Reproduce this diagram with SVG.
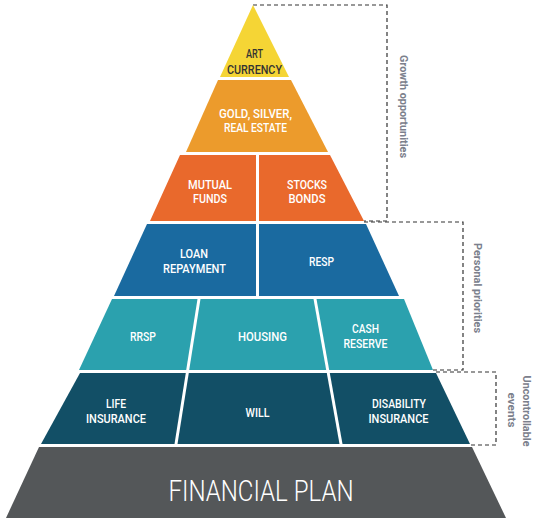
<svg xmlns="http://www.w3.org/2000/svg" width="538" height="523" viewBox="0 0 538 523">
<style>
.lbl{font-family:Roboto,"Liberation Sans",sans-serif;font-weight:500;font-size:12.5px;fill:#fff;text-anchor:middle}
.dark{fill:#333}
.side{font-family:Roboto,"Liberation Sans",sans-serif;font-weight:700;font-size:11px;fill:#7b808c;text-anchor:middle}
.dash{fill:none;stroke:#333;stroke-width:1.2;stroke-dasharray:4 3}
.t1{fill:#f5d535}.t2{fill:#ec9b2c}.t3{fill:#e9692c}.t4{fill:#1a6aa0}.t5{fill:#2ba1ae}.t6{fill:#124f66}.base{fill:#545759}
</style>
<rect width="538" height="523" fill="#fff"/>
<g id="connectors">
<polyline class="dash" points="253,5 387,5 387,221 364,221"/>
<polyline class="dash" points="364,222 463,222 463,370 433,370"/>
<polyline class="dash" points="436,372 496,372 496,445 470,445"/>
</g>
<g id="art">
<polygon class="t1" points="253,5 289,77 220,77"/>
<text class="lbl dark" x="254.5" y="58" textLength="17" lengthAdjust="spacingAndGlyphs">ART</text>
<text class="lbl dark" x="254.5" y="74" textLength="55" lengthAdjust="spacingAndGlyphs">CURRENCY</text>
</g>
<g id="gold">
<polygon class="t2" points="218,80 291,80 328,152 186,152"/>
<text class="lbl" x="255.5" y="117.5" textLength="73" lengthAdjust="spacingAndGlyphs">GOLD, SILVER,</text>
<text class="lbl" x="255.5" y="132.3" textLength="63" lengthAdjust="spacingAndGlyphs">REAL ESTATE</text>
</g>
<g id="mutual">
<polygon class="t3" points="180,155 256,155 256,221 150,221"/>
<text class="lbl" x="210" y="188.5" textLength="44" lengthAdjust="spacingAndGlyphs">MUTUAL</text>
<text class="lbl" x="210" y="203.3" textLength="34" lengthAdjust="spacingAndGlyphs">FUNDS</text>
</g>
<g id="stocks">
<polygon class="t3" points="259,155 330,155 364,221 259,221"/>
<text class="lbl" x="307" y="188.5" textLength="40" lengthAdjust="spacingAndGlyphs">STOCKS</text>
<text class="lbl" x="307" y="203.3" textLength="37" lengthAdjust="spacingAndGlyphs">BONDS</text>
</g>
<g id="loan">
<polygon class="t4" points="147,224 256,224 256,296 114,296"/>
<text class="lbl" x="194" y="258" textLength="28" lengthAdjust="spacingAndGlyphs">LOAN</text>
<text class="lbl" x="194.5" y="273" textLength="63" lengthAdjust="spacingAndGlyphs">REPAYMENT</text>
</g>
<g id="resp">
<polygon class="t4" points="259,224 366,224 399,296 259,296"/>
<text class="lbl" x="321.5" y="266" textLength="25" lengthAdjust="spacingAndGlyphs">RESP</text>
</g>
<g id="rrsp">
<polygon class="t5" points="112,299 197.5,299 186.2,370 79,370"/>
<text class="lbl" x="143" y="341" textLength="26" lengthAdjust="spacingAndGlyphs">RRSP</text>
</g>
<g id="housing">
<polygon class="t5" points="200.5,299 313.5,299 326.2,370 189.2,370"/>
<text class="lbl" x="262.5" y="341" textLength="49" lengthAdjust="spacingAndGlyphs">HOUSING</text>
</g>
<g id="cash">
<polygon class="t5" points="316.5,299 404,299 433,370 329.2,370"/>
<text class="lbl" x="365.5" y="333" textLength="27" lengthAdjust="spacingAndGlyphs">CASH</text>
<text class="lbl" x="365.5" y="348" textLength="44" lengthAdjust="spacingAndGlyphs">RESERVE</text>
</g>
<g id="life">
<polygon class="t6" points="80,373 185.8,373 174.5,444 41,444"/>
<text class="lbl" x="116" y="407.5" textLength="20" lengthAdjust="spacingAndGlyphs">LIFE</text>
<text class="lbl" x="116" y="422.5" textLength="60" lengthAdjust="spacingAndGlyphs">INSURANCE</text>
</g>
<g id="will">
<polygon class="t6" points="188.8,373 326.8,373 339.5,444 177.5,444"/>
<text class="lbl" x="257.6" y="417" textLength="24" lengthAdjust="spacingAndGlyphs">WILL</text>
</g>
<g id="disability">
<polygon class="t6" points="329.8,373 436,373 470,444 342.5,444"/>
<text class="lbl" x="399" y="407.5" textLength="54" lengthAdjust="spacingAndGlyphs">DISABILITY</text>
<text class="lbl" x="398.5" y="422.5" textLength="60" lengthAdjust="spacingAndGlyphs">INSURANCE</text>
</g>
<g id="financial-plan">
<polygon class="base" points="39,447 472,447 506,518 6,518"/>
<text x="261" y="501" textLength="185" lengthAdjust="spacingAndGlyphs" style="font-family:Roboto,'Liberation Sans',sans-serif;font-weight:300;font-size:30px;fill:#fff;text-anchor:middle">FINANCIAL PLAN</text>
</g>
<g id="growth-label">
<text class="side" transform="translate(400,106.5) rotate(90)" textLength="103" lengthAdjust="spacingAndGlyphs">Growth opportunities</text>
</g>
<g id="personal-label">
<text class="side" transform="translate(474,288) rotate(90)" textLength="90" lengthAdjust="spacingAndGlyphs">Personal priorities</text>
</g>
<g id="uncontrollable-label">
<text class="side" transform="translate(523,411) rotate(90)" textLength="71" lengthAdjust="spacingAndGlyphs">Uncontrollable</text>
<text class="side" transform="translate(508,410) rotate(90)" textLength="35" lengthAdjust="spacingAndGlyphs">events</text>
</g>
</svg>
